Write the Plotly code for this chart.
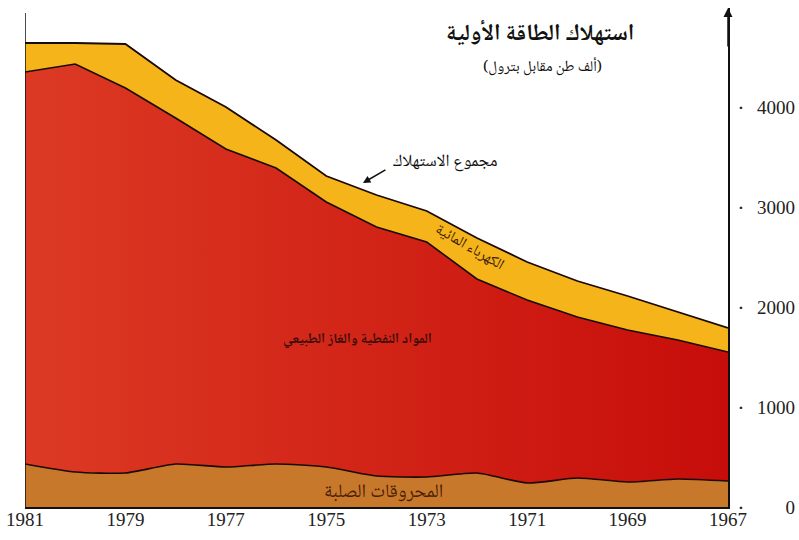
import plotly.graph_objects as go

# Data (thousand tonnes oil equivalent)
years = [1981, 1980, 1979, 1978, 1977, 1976, 1975, 1974, 1973, 1972, 1971, 1970, 1969, 1968, 1967]
solid_fuels = [430, 350, 340, 430, 400, 430, 400, 310, 300, 340, 240, 290, 250, 280, 260]
oil_gas = [3920, 4080, 3850, 3460, 3180, 2960, 2650, 2490, 2350, 1940, 1830, 1610, 1520, 1390, 1290]
hydro = [290, 210, 440, 380, 420, 280, 260, 320, 310, 410, 380, 360, 340, 280, 240]

x_ticks = [1981, 1979, 1977, 1975, 1973, 1971, 1969, 1967]
y_ticks = [0, 1000, 2000, 3000, 4000]
y_tick_text = ["0", "1000", "2000", "3000", "4000"]

title_text = "استهلاك الطاقة الأولية"
subtitle_text = "(ألف طن مقابل بترول)"
label_total = "مجموع الاستهلاك"
label_hydro = "الكهرباء المائية"
label_oil = "المواد النفطية والغاز الطبيعي"
label_solid = "المحروقات الصلبة"

AR_FONT = "Noto Naskh Arabic, Noto Sans Arabic, DejaVu Sans, sans-serif"
NUM_FONT = "Liberation Serif, Times New Roman, serif"

fig = go.Figure()
fig.add_trace(go.Scatter(
    x=years, y=solid_fuels, stackgroup="one", mode="lines",
    line=dict(color="#1a0a05", width=1.6, shape="spline", smoothing=0.6),
    fillcolor="#C8782A", hoverinfo="skip", showlegend=False))
fig.add_trace(go.Scatter(
    x=years, y=oil_gas, stackgroup="one", mode="lines",
    line=dict(color="#1a0a05", width=1.6),
    fillcolor="#D82A1C",
    fillgradient=dict(type="horizontal",
                      colorscale=[[0, "#DC3A24"], [1, "#C70D0A"]]),
    hoverinfo="skip", showlegend=False))
fig.add_trace(go.Scatter(
    x=years, y=hydro, stackgroup="one", mode="lines",
    line=dict(color="#1a0a05", width=1.8),
    fillcolor="#F6B41B", hoverinfo="skip", showlegend=False))
# invisible helper trace so that the right-hand value labels axis is drawn
fig.add_trace(go.Scatter(
    x=[years[0]], y=[y_ticks[0]], yaxis="y2", mode="markers",
    marker=dict(opacity=0), hoverinfo="skip", showlegend=False))

fig.update_layout(
    width=799, height=540,
    margin=dict(l=25, r=4, t=8, b=33, autoexpand=False),
    paper_bgcolor="white", plot_bgcolor="white",
    xaxis=dict(range=[years[0], years[-1]], domain=[0, 703 / 770],
               automargin=False,
               tickvals=x_ticks, ticktext=[str(v) for v in x_ticks],
               showline=True, linecolor="#111", linewidth=1.5,
               showgrid=False, zeroline=False, ticks="",
               ticklabelstandoff=-6, ticklabeloverflow="allow",
               tickfont=dict(family=NUM_FONT, size=19, color="#222")),
    yaxis=dict(range=[0, 4990], side="right", anchor="x", automargin=False,
               showline=True, linecolor="#111", linewidth=1.5,
               showgrid=False, zeroline=False, ticks="",
               ticklabelstandoff=3,
               tickvals=y_ticks, ticktext=["·"] * len(y_ticks),
               tickfont=dict(family=NUM_FONT, size=22, color="#222")),
    yaxis2=dict(range=[0, 4990], overlaying="y", side="left", anchor="free",
                position=1, automargin=False,
                showline=False, showgrid=False, zeroline=False,
                ticks="", tickvals=y_ticks, ticktext=y_tick_text,
                tickfont=dict(family=NUM_FONT, size=19, color="#222")),
)

# left vertical line and y-axis arrow
fig.add_shape(type="line", xref="x", yref="y", x0=years[0], x1=years[0],
              y0=0, y1=4940, line=dict(color="#111", width=1.5))
fig.add_annotation(x=years[-1], y=4990, xref="x", yref="y", ax=0, ay=40,
                   text="", showarrow=True, arrowhead=2, arrowsize=1.2,
                   arrowwidth=1.5, arrowcolor="#111")

# texts
fig.add_annotation(x=1970.74, y=4720, xref="x", yref="y", text="<b>" + title_text + "</b>",
                   showarrow=False, font=dict(family=AR_FONT, size=23, color="#111"))
fig.add_annotation(x=1970.7, y=4390, xref="x", yref="y", text=subtitle_text,
                   showarrow=False, font=dict(family=AR_FONT, size=15, color="#111"))
fig.add_annotation(x=1972.63, y=3450, xref="x", yref="y", text=label_total,
                   showarrow=False, font=dict(family=AR_FONT, size=17, color="#111"))
fig.add_annotation(x=1974.27, y=3240, xref="x", yref="y", ax=24, ay=-14,
                   text="", showarrow=True, arrowhead=2, arrowsize=1,
                   arrowwidth=1.5, arrowcolor="#111")
fig.add_annotation(x=1972.16, y=2590, xref="x", yref="y", text=label_hydro,
                   textangle=30, showarrow=False,
                   font=dict(family=AR_FONT, size=15, color="#3a1a05"))
fig.add_annotation(x=1974.37, y=1670, xref="x", yref="y", text="<b>" + label_oil + "</b>",
                   showarrow=False, font=dict(family=AR_FONT, size=14, color="#3a0c08"))
fig.add_annotation(x=1973.87, y=140, xref="x", yref="y", text=label_solid,
                   showarrow=False, font=dict(family=AR_FONT, size=19, color="#4a2005"))

fig.write_html(
    "out.html",
    config={"displayModeBar": False},
    post_script="document.body.style.margin='0px';"
                "document.documentElement.style.overflow='hidden';")
